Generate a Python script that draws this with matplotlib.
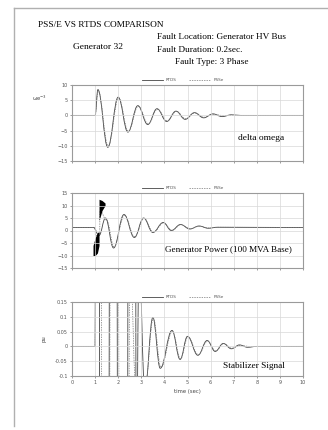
import numpy as np
import matplotlib
matplotlib.use("Agg")
import matplotlib.pyplot as plt
from matplotlib.path import Path
from matplotlib.patches import PathPatch
from matplotlib.lines import Line2D

# delta omega (x1e-3), extrema
t_w_rtds = [0, 1.0, 1.12, 1.55, 2.0, 2.42, 2.85, 3.28, 3.68, 4.1, 4.5, 4.9, 5.3, 5.7, 6.1, 6.5, 6.9, 7.3, 10]
w_rtds = [0, 0, 8.5, -10.5, 6.0, -5.5, 3.2, -3.0, 2.2, -2.0, 1.4, -1.3, 0.9, -0.8, 0.5, -0.4, 0.2, 0, 0]
t_w_psse = [0, 1.0, 1.13, 1.57, 2.02, 2.44, 2.87, 3.3, 3.7, 4.12, 4.52, 4.92, 5.32, 5.72, 6.12, 6.5, 10]
w_psse = [0, 0, 8.0, -10.0, 5.7, -5.2, 3.0, -2.8, 2.0, -1.8, 1.3, -1.1, 0.8, -0.6, 0.4, 0, 0]

# generator power
t_p_rtds = [0, 0.93, 1.17, 1.45, 1.8, 2.25, 2.7, 3.1, 3.5, 3.95, 4.3, 4.7, 5.1, 5.5, 5.9, 6.3, 10]
p_rtds = [1.2, 1.2, -2, 5, -7.0, 6.4, -2.8, 5.0, -0.8, 3.2, 0.0, 2.4, 0.6, 1.8, 0.9, 1.3, 1.2]
t_p_psse = [0, 1.0, 1.01, 1.2, 1.21, 1.5, 1.82, 2.27, 2.72, 3.12, 3.52, 3.97, 4.33, 4.72, 5.12, 5.5, 5.9, 6.3, 10]
p_psse = [1.2, 1.2, -2, -2, 8, 4, -6.5, 6.0, -2.5, 4.8, -0.6, 3.0, 0.1, 2.3, 0.7, 1.7, 1.0, 1.3, 1.2]
# fast transient blobs during / after the fault (envelopes)
blob1_t = [0.91, 1.0, 1.1, 1.17]
blob1_lo = [-10, -10, -9, -6]
blob1_hi = [-6, -3, -0.8, -0.5]
blob2_t = [1.17, 1.3, 1.43]
blob2_lo = [4, 8, 10]
blob2_hi = [12.5, 12, 11]

# stabilizer signal
t_s_rtds = [0, 1.0, 1.02, 1.18, 1.2, 1.6, 1.62, 1.95, 1.97, 2.4, 2.43, 2.75, 2.78, 2.9, 3.15,
            3.5, 3.82, 4.33, 4.68, 5.0, 5.45, 5.85, 6.2, 6.55, 6.9, 7.25, 7.6, 8.0, 10]
s_rtds = [0, 0, 0.5, 0.5, -0.5, -0.5, 0.5, 0.5, -0.5, -0.5, 0.5, 0.5, -0.5, 0.3, -0.15,
          0.098, -0.074, 0.054, -0.044, 0.034, -0.03, 0.02, -0.017, 0.01, -0.008, 0.005, -0.003, 0, 0]
t_s_psse = [0, 1.0, 1.03, 1.25, 1.3, 1.62, 1.66, 2.0, 2.05, 2.45, 2.5, 2.8, 3.18,
            3.52, 3.85, 4.35, 4.7, 5.02, 5.47, 5.87, 6.22, 6.57, 6.92, 7.3, 7.7, 10]
s_psse = [0, 0, 0.4, 0.4, -0.4, -0.4, 0.4, 0.4, -0.4, -0.4, 0.3, -0.2, -0.12,
          0.095, -0.07, 0.05, -0.042, 0.032, -0.028, 0.018, -0.015, 0.009, -0.006, 0.003, 0, 0]

w_ticks = [10, 5, 0, -5, -10, -15]
p_ticks = [15, 10, 5, 0, -5, -10, -15]
s_ticks = [0.15, 0.1, 0.05, 0, -0.05, -0.1]
s_ticklabels = ["0.15", "0.1", "0.05", "0", "-0.05", "-0.1"]
x_ticks = list(range(0, 11))

serif = "Liberation Serif"


def wave(ts, vs):
    # smooth curve through the read extrema (flat tangents at each point)
    verts = [(ts[0], vs[0])]
    codes = [Path.MOVETO]
    for i in range(1, len(ts)):
        d = ts[i] - ts[i - 1]
        verts += [(ts[i - 1] + 0.4 * d, vs[i - 1]), (ts[i] - 0.4 * d, vs[i]), (ts[i], vs[i])]
        codes += [Path.CURVE4] * 3
    return Path(verts, codes)


def setup(ax, yt, ylim, ylabels=None, xlabels=False):
    ax.set_xlim(0, 10)
    ax.set_ylim(*ylim)
    ax.set_xticks(x_ticks)
    ax.set_yticks(yt)
    if ylabels is not None:
        ax.set_yticklabels(ylabels)
    if not xlabels:
        ax.set_xticklabels([])
    ax.grid(True, color="#d8d8d8", lw=0.5)
    ax.tick_params(labelsize=3.5, colors="#555555", length=1.5, width=0.4, pad=1.5)
    for s in ax.spines.values():
        s.set_color("#9a9a9a")
        s.set_linewidth(0.8)
    handles = [Line2D([], [], color="#444444", lw=0.6),
               Line2D([], [], color="#777777", lw=0.5, ls=(0, (2, 1.5)))]
    ax.legend(handles, ["RTDS", "PSSe"], loc="lower center", bbox_to_anchor=(0.48, 1.0),
              ncol=2, frameon=False, fontsize=3, handlelength=5, columnspacing=3,
              borderaxespad=0.3, labelcolor="#555555")


def draw(ax, t1, v1, t2, v2):
    ax.add_patch(PathPatch(wave(t1, v1), fill=False, ec="#444444", lw=0.6))
    ax.add_patch(PathPatch(wave(t2, v2), fill=False, ec="#777777", lw=0.5, ls=(0, (2, 1.5))))


W, H = 328, 430
fig = plt.figure(figsize=(W / 100, H / 100), dpi=100)


def axes_px(l, r, t, b):
    return fig.add_axes([l / W, 1 - b / H, (r - l) / W, (b - t) / H])


ax1 = axes_px(72, 303, 85, 161)
setup(ax1, w_ticks, (-15, 10))
draw(ax1, t_w_rtds, w_rtds, t_w_psse, w_psse)
ax1.text(0.92, 0.3, "delta omega", transform=ax1.transAxes, ha="right", va="center",
         fontsize=6.8, family=serif)
ax1.text(-0.11, 0.83, "ωe$^{-3}$", transform=ax1.transAxes, ha="right", va="center",
         fontsize=3.8, color="#444444")

ax2 = axes_px(72, 303, 193, 268)
setup(ax2, p_ticks, (-15, 15))
draw(ax2, t_p_rtds, p_rtds, t_p_psse, p_psse)
ax2.fill_between(blob1_t, blob1_lo, blob1_hi, color="k", lw=0)
ax2.fill_between(blob2_t, blob2_lo, blob2_hi, color="k", lw=0)
ax2.text(0.95, 0.25, "Generator Power (100 MVA Base)", transform=ax2.transAxes, ha="right",
         va="center", fontsize=6.6, family=serif)

ax3 = axes_px(72, 303, 302, 376)
setup(ax3, s_ticks, (-0.1, 0.15), s_ticklabels, xlabels=True)
draw(ax3, t_s_rtds, s_rtds, t_s_psse, s_psse)
ax3.text(0.92, 0.13, "Stabilizer Signal", transform=ax3.transAxes, ha="right", va="center",
         fontsize=6.7, family=serif)
ax3.set_ylabel("pu", fontsize=3.8, color="#444444", labelpad=6)
ax3.set_xlabel("time (sec)", fontsize=3.8, color="#444444", labelpad=3)

# header text
fig.text(38 / W, 1 - 25 / H, "PSS/E VS RTDS COMPARISON", fontsize=6.7, family=serif, va="center")
fig.text(73 / W, 1 - 47 / H, "Generator 32", fontsize=6.8, family=serif, va="center")
fig.text(157 / W, 1 - 37 / H, "Fault Location: Generator HV Bus", fontsize=6.7, family=serif, va="center")
fig.text(157 / W, 1 - 50 / H, "Fault Duration: 0.2sec.", fontsize=6.7, family=serif, va="center")
fig.text(175 / W, 1 - 62 / H, "Fault Type: 3 Phase", fontsize=6.7, family=serif, va="center")

# page border of the scanned sheet
fig.add_artist(Line2D([14 / W, 14 / W], [1 - 8 / H, 1 - 426 / H], transform=fig.transFigure,
                      color="#b0b0b0", lw=1.0))
fig.add_artist(Line2D([14 / W, 1.0], [1 - 8 / H, 1 - 8 / H], transform=fig.transFigure,
                      color="#b0b0b0", lw=1.0))

fig.savefig("out.png", dpi=100)
